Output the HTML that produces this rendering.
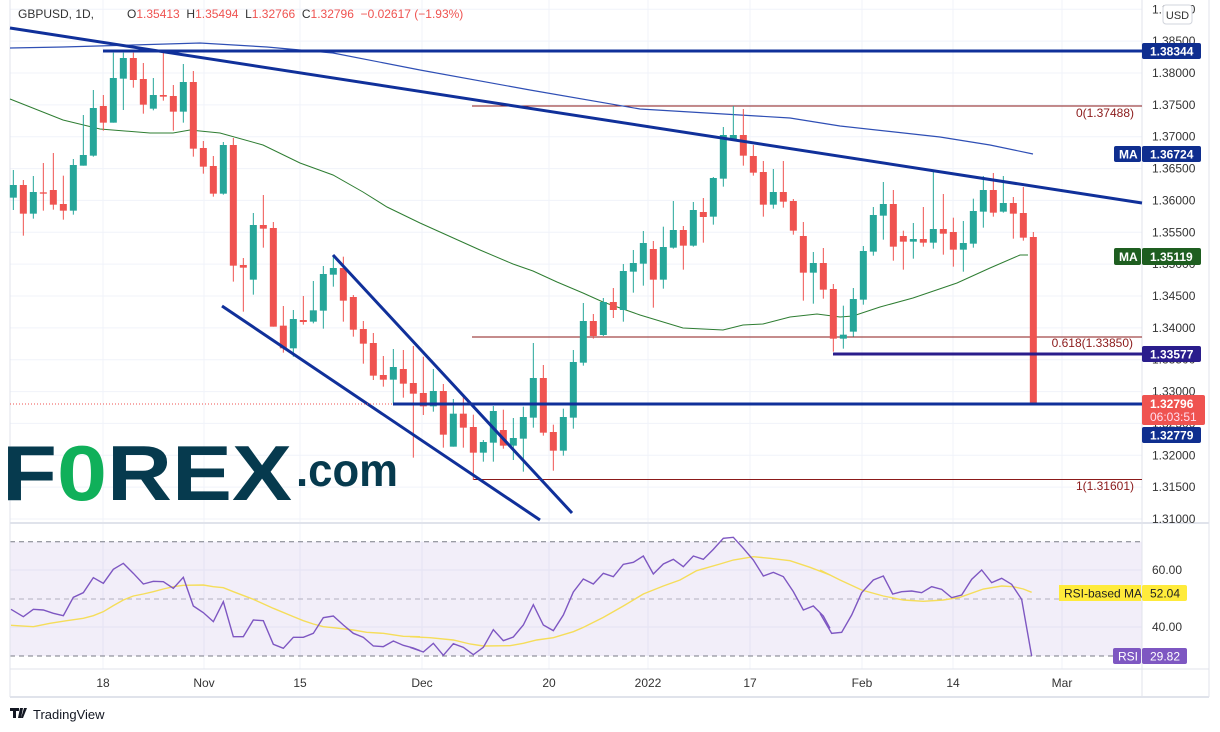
<!DOCTYPE html>
<html><head><meta charset="utf-8"><style>
html,body{margin:0;padding:0;background:#fff;}
svg{display:block;font-family:"Liberation Sans",sans-serif;}
</style></head><body>
<svg id="s" width="1220" height="732" viewBox="0 0 1220 732" xmlns="http://www.w3.org/2000/svg">
<rect width="1220" height="732" fill="#fff"/>
<g id="grid" stroke="#f0f3fa" stroke-width="1"></g>
<!-- RSI pane bg -->
<rect x="10" y="541.7" width="1132" height="114.3" fill="#7e57c2" fill-opacity="0.1"/>
<line x1="10" y1="541.7" x2="1142" y2="541.7" stroke="#787b86" stroke-dasharray="5,4"/>
<line x1="10" y1="599" x2="1142" y2="599" stroke="#b2b0bf" stroke-dasharray="5,4"/>
<line x1="10" y1="656" x2="1142" y2="656" stroke="#787b86" stroke-dasharray="5,4"/>
<!-- frame -->
<line x1="10" y1="0" x2="10" y2="697" stroke="#e0e3eb"/>
<line x1="1209" y1="0" x2="1209" y2="697" stroke="#e0e3eb"/>
<line x1="1142" y1="0" x2="1142" y2="697" stroke="#e0e3eb"/>
<line x1="10" y1="523" x2="1209" y2="523" stroke="#e0e3eb" stroke-width="2"/>
<line x1="10" y1="669" x2="1209" y2="669" stroke="#e0e3eb"/>
<line x1="10" y1="697" x2="1209" y2="697" stroke="#e0e3eb" stroke-width="2"/>

<!-- FOREX logo -->
<text x="2" y="500" font-size="78" font-weight="bold" fill="#063a4e" textLength="290" lengthAdjust="spacingAndGlyphs">F<tspan fill="#10b05a">0</tspan>REX</text>
<text x="296" y="486" font-size="46" font-weight="bold" fill="#063a4e" textLength="102" lengthAdjust="spacingAndGlyphs">.com</text>

<!-- red fib lines -->
<g stroke="#8b1a1a" stroke-width="1">
<line x1="472" y1="106" x2="1142" y2="106"/>
<line x1="472" y1="337" x2="1142" y2="337"/>
<line x1="473" y1="479.5" x2="1142" y2="479.5"/>
</g>
<g fill="#8b1a1a" font-size="12" text-anchor="end">
<text x="1134" y="117">0(1.37488)</text>
<text x="1133" y="347">0.618(1.33850)</text>
<text x="1134" y="490">1(1.31601)</text>
</g>

<!-- MAs -->
<polyline fill="none" stroke="#2f4fb5" stroke-width="1.2" points="10,48 63,47 133,45 200,43 267,47 333,53 420,70 530,90 640,109 740,115 790,118 840,126 940,137 990,145 1033,154"/>
<polyline fill="none" stroke="#2e7d32" stroke-width="1" points="10,99 63,120 100,129 150,133 173,133 190,130 220,133 263,145 300,163 333,175 363,192 387,207 420,223 480,250 513,264 533,271 557,282 583,293 603,302 623,309 640,315 683,328 723,330 743,325 763,324 790,317 817,314 840,317 853,316 880,307 913,298 957,283 990,268 1020,255 1028,255"/>

<g id="candles"></g>

<!-- trend lines -->
<g stroke="#10309a" stroke-width="3" fill="none">
<line x1="10" y1="28" x2="1142" y2="203"/>
<line x1="103" y1="51" x2="1142" y2="51"/>
<line x1="222" y1="306" x2="540" y2="520"/>
<line x1="333" y1="255" x2="572" y2="513"/>
<line x1="393" y1="404" x2="1142" y2="404"/>
</g>
<line x1="833" y1="354" x2="1142" y2="354" stroke="#2a1d8c" stroke-width="3"/>
<line x1="10" y1="404" x2="393" y2="404" stroke="#ef5350" stroke-width="1" stroke-dasharray="1,2"/>

<!-- RSI -->
<g transform="translate(0,520) scale(0.33333)" fill="none" stroke-width="1.4" vector-effect="non-scaling-stroke">
<polyline stroke="#f5dd5a" vector-effect="non-scaling-stroke" points="33,316 100,320 150,310 200,302 250,295 280,287 310,275 340,257 370,240 400,228 430,222 460,215 490,207 520,200 550,196 610,195 640,200 670,203 700,215 760,238 820,265 880,290 910,302 940,312 970,320 1000,323 1060,330 1100,337 1150,340 1210,349 1260,350"/>
<polyline stroke="#7e57c2" vector-effect="non-scaling-stroke" points="33,268 70,290 100,268 130,270 160,280 190,287 220,232 250,218 280,173 310,190 340,148 370,130 400,160 430,192 460,184 490,185 520,205 550,172 580,258 610,278 640,305 670,245 700,350 730,350 760,300 790,302 820,373 850,385 880,352 910,352 940,340 970,293 1000,288 1030,315 1060,340 1090,352 1120,378 1150,380 1180,363 1210,376 1240,384 1260,392"/>
</g>
<g transform="translate(410,530) scale(0.33333)" fill="none">
<polyline stroke="#f5dd5a" stroke-width="1.4" vector-effect="non-scaling-stroke" points="0,320 60,323 130,330 180,342 220,348 300,347 340,340 380,330 430,323 490,305 520,292 580,262 640,228 700,192 760,168 810,150 860,122 930,102 970,90 1030,80 1080,85 1140,92 1200,112 1260,135"/>
<polyline stroke="#7e57c2" stroke-width="1.4" vector-effect="non-scaling-stroke" points="0,352 40,366 70,340 100,376 130,341 160,352 190,374 220,352 250,299 280,332 310,321 340,285 370,224 400,285 430,302 460,255 490,186 520,147 550,162 580,130 610,140 640,103 670,97 700,78 730,132 760,102 790,88 820,110 850,78 880,88 910,58 940,25 970,22 1000,55 1030,90 1060,138 1090,127 1120,140 1150,185 1180,240 1210,228 1240,258 1260,295"/>
</g>
<g transform="translate(820,520) scale(0.33333)" fill="none">
<polyline stroke="#f5dd5a" stroke-width="1.4" vector-effect="non-scaling-stroke" points="0,150 60,180 125,210 190,228 250,240 310,244 370,240 420,232 490,207 545,198 580,200 610,207 635,217"/>
<polyline stroke="#7e57c2" stroke-width="1.4" vector-effect="non-scaling-stroke" points="0,280 35,340 65,337 95,285 125,218 160,180 190,168 218,222 245,215 275,213 305,218 335,200 365,208 395,233 425,225 455,178 485,150 515,188 545,175 575,193 605,238 635,408"/>
</g>

<!-- price axis labels -->
<g id="plabels" fill="#333" font-size="12"></g>
<rect x="1163" y="5" width="29" height="19" rx="3" fill="#fff" stroke="#d1d4dc"/>
<text x="1177.5" y="19" font-size="11" fill="#333" text-anchor="middle">USD</text>

<!-- right tags -->
<g font-size="12" font-weight="bold" fill="#fff">
<rect x="1142" y="43" width="59" height="16" rx="2" fill="#0f2e8f"/><text x="1150" y="55.5">1.38344</text>
<rect x="1114" y="146" width="27" height="16" rx="2" fill="#0f2e8f"/><text x="1119" y="158.5">MA</text>
<rect x="1142" y="146" width="59" height="16" rx="2" fill="#0f2e8f"/><text x="1150" y="158.5">1.36724</text>
<rect x="1114" y="248" width="27" height="17" rx="2" fill="#1e5e20"/><text x="1119" y="261">MA</text>
<rect x="1142" y="248" width="59" height="17" rx="2" fill="#1e5e20"/><text x="1150" y="261">1.35119</text>
<rect x="1142" y="346" width="59" height="16" rx="2" fill="#2a1d8c"/><text x="1150" y="358.5">1.33577</text>
<rect x="1142" y="395" width="63" height="30" rx="2" fill="#ef5350"/><text x="1150" y="408">1.32796</text>
<text x="1150" y="421" font-weight="normal" fill="#fde">06:03:51</text>
<rect x="1142" y="427" width="59" height="16" rx="2" fill="#0f2e8f"/><text x="1150" y="439.5">1.32779</text>
</g>
<!-- RSI axis -->
<g fill="#333" font-size="12">
<text x="1152" y="574">60.00</text>
<text x="1152" y="631">40.00</text>
</g>
<rect x="1059" y="585" width="82" height="16" fill="#ffeb3b"/><text x="1064" y="597.5" font-size="12" fill="#222">RSI-based MA</text>
<rect x="1142" y="585" width="45" height="16" rx="2" fill="#ffeb3b"/><text x="1150" y="597.5" font-size="12" fill="#222">52.04</text>
<rect x="1113" y="648" width="28" height="16" rx="2" fill="#7e57c2"/><text x="1118" y="660.5" font-size="12" fill="#fff">RSI</text>
<rect x="1142" y="648" width="45" height="16" rx="2" fill="#7e57c2"/><text x="1150" y="660.5" font-size="12" fill="#fff">29.82</text>

<!-- x axis labels -->
<g fill="#333" font-size="12" text-anchor="middle">
<text x="103" y="687">18</text><text x="204" y="687">Nov</text><text x="300" y="687">15</text>
<text x="422" y="687">Dec</text><text x="549" y="687">20</text><text x="648" y="687">2022</text>
<text x="750" y="687">17</text><text x="862" y="687">Feb</text><text x="953" y="687">14</text>
<text x="1062" y="687">Mar</text>
</g>

<!-- header -->
<text x="18" y="18" font-size="12" fill="#333">GBPUSD, 1D,</text>
<text x="127" y="18" font-size="12" fill="#ef5350" xml:space="preserve"><tspan fill="#333">O</tspan>1.35413  <tspan fill="#333">H</tspan>1.35494  <tspan fill="#333">L</tspan>1.32766  <tspan fill="#333">C</tspan>1.32796  −0.02617 (−1.93%)</text>

<!-- TradingView -->
<path d="M10 708 h9 v3 h-3 v7 h-3 v-7 h-3z M20 708 h3 l-2 10 h-3z M24 708 h3 l-4 10 h-2z" fill="#131722"/>
<text x="33" y="719" font-size="13" fill="#131722">TradingView</text>
</svg>
<script>
(function(){
var NS="http://www.w3.org/2000/svg";
function el(p,t,a){var e=document.createElementNS(NS,t);for(var k in a)e.setAttribute(k,a[k]);p.appendChild(e);return e;}
var grid=document.getElementById('grid');
var xs=[103,204,300,422,549,648,750,862,953,1062];
xs.forEach(function(x){el(grid,'line',{x1:x,y1:0,x2:x,y2:669});});
var pl=document.getElementById('plabels');
for(var k=-2;k<=14;k++){var y=73+k*31.857;
 el(grid,'line',{x1:10,y1:y,x2:1142,y2:y});
 var p=(1.38-k*0.005).toFixed(5);
 var t=el(pl,'text',{x:1152,y:y+4});t.textContent=p;}
[570,627].forEach(function(y){el(grid,'line',{x1:10,y1:y,x2:1142,y2:y});});
var groups=[
[0,30,[[40,465,503,420,540,1],[70,465,551,450,617,0],[100,486,551,438,566,1],[130,487,491,399,542,0],[160,480,524,369,539,0],[190,522,542,437,569,0],[220,405,542,387,554,1],[250,375,407,255,407,1],[280,234,377,180,380,1],[310,228,278,195,302,0],[340,144,278,68,278,1],[370,84,146,68,240,1],[400,84,150,68,173,0],[430,147,224,99,251,0],[460,195,236,144,241,1],[490,195,200,68,212,0],[520,198,245,165,302,0],[550,156,245,102,278,1],[580,156,356,123,380,0],[610,354,410,333,431,0],[640,408,491,378,500,0],[670,345,491,336,494,1],[700,345,707,324,755,0],[730,705,713,684,845,0],[760,585,749,549,794,1],[790,585,596,495,653,0],[820,594,890,576,890,0],[850,887,955,828,968,0],[880,867,955,840,980,1],[910,870,876,798,884,0]]],
[300,250,[[40,181,215,93,220,1],[70,72,182,48,236,1],[100,54,74,15,110,1],[130,54,152,20,215,0],[160,141,239,135,260,0],[190,237,281,213,341,0],[220,279,377,249,390,0],[250,375,389,318,410,0],[280,351,389,297,460,1],[310,357,401,300,443,0],[340,399,431,288,623,0],[370,429,469,320,495,0],[400,423,469,357,485,1],[430,423,554,402,593,0],[460,491,590,447,590,1],[490,491,533,440,593,0],[520,531,608,494,690,0],[550,576,608,570,635,1],[580,483,578,468,635,1],[610,540,587,479,596,0],[640,564,587,504,630,1],[670,501,566,470,665,1],[700,384,503,279,533,1],[730,384,548,345,557,0],[760,546,602,524,662,0],[790,501,602,476,617,1],[820,336,503,300,536,1],[850,213,338,159,347,1],[880,213,258,192,266,0],[910,156,255,144,258,1],[940,156,180,114,204,0],[970,63,180,42,215,1],[1000,39,65,0,128,1]]],
[640,90,[[10,459,521,423,587,1],[40,477,569,453,653,0],[70,471,569,410,596,1],[100,420,473,333,476,1],[130,420,467,408,539,0],[160,360,467,336,470,1],[190,366,381,324,458,0],[220,264,380,261,404,1],[250,135,266,111,290,1],[280,135,150,48,150,1],[310,135,197,57,227,0],[340,198,248,165,257,0],[370,246,344,213,380,0],[400,306,344,237,356,1],[430,306,335,213,353,0],[460,333,422,327,434,0],[490,438,548,396,632,0],[520,519,548,486,641,1],[550,519,599,474,626,0],[580,597,746,582,785,0],[610,734,746,647,776,1],[640,627,725,594,740,1],[670,483,629,468,644,1],[700,375,485,351,497,1],[730,342,377,276,449,1],[760,342,470,300,512,0],[790,438,455,422,539,0],[820,447,455,399,506,1],[850,447,458,351,470,0],[880,417,458,245,476,1],[910,417,431,312,494,0],[940,426,479,383,530,0],[970,459,479,393,545,1],[1000,363,461,326,473,1],[1030,300,365,258,413,1],[1060,300,368,249,380,0],[1090,339,365,258,368,1],[1120,339,371,321,446,0],[1150,369,443,291,452,0],[1180,441,944,426,944,0]]]
];
var cg=document.getElementById('candles');
groups.forEach(function(g){
 var ox=g[0],oy=g[1];
 g[2].forEach(function(c){
  var x=ox+c[0]/3,top=oy+c[1]/3,bot=oy+c[2]/3,hi=oy+c[3]/3,lo=oy+c[4]/3;
  var col=c[5]?'#26a69a':'#ef5350';
  el(cg,'line',{x1:x,y1:hi,x2:x,y2:lo,stroke:col,'stroke-width':1});
  el(cg,'rect',{x:x-3.5,y:top,width:7,height:Math.max(1,bot-top),fill:col});
 });
});
})();
</script>
</body></html>
